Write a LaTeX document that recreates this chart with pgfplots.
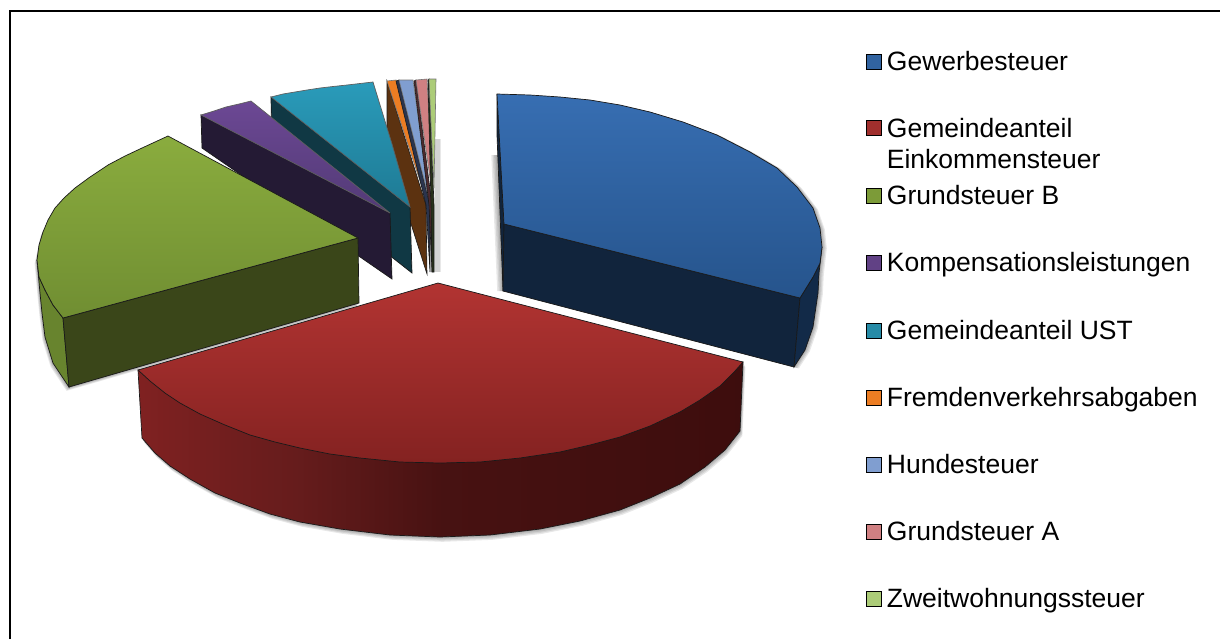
\documentclass[border=0pt]{standalone}
\usepackage{fontspec}
\setmainfont{Liberation Sans}
\usepackage{pgfplots}
\usepackage{pgfplotstable}
\pgfplotsset{compat=1.18}

% top faces: vertical gradient
\definecolor{blueA}{RGB}{55,110,178}\definecolor{blueB}{RGB}{38,84,140}
\definecolor{redA}{RGB}{178,52,50}\definecolor{redB}{RGB}{132,34,33}
\definecolor{greenA}{RGB}{138,172,62}\definecolor{greenB}{RGB}{112,142,50}
\definecolor{purpA}{RGB}{108,72,148}\definecolor{purpB}{RGB}{82,58,118}
\definecolor{tealA}{RGB}{42,155,186}\definecolor{tealB}{RGB}{30,122,148}
% walls
\definecolor{blueW}{RGB}{17,36,60}\definecolor{blueO}{RGB}{18,42,72}
\definecolor{greenW}{RGB}{58,70,25}\definecolor{greenO}{RGB}{104,132,46}
\definecolor{purpW}{RGB}{36,26,52}\definecolor{tealW}{RGB}{16,56,68}
\definecolor{brownW}{RGB}{92,50,16}\definecolor{edge}{RGB}{25,25,25}
\definecolor{orangeK}{RGB}{236,125,35}\definecolor{hundK}{RGB}{128,158,208}
\definecolor{pinkK}{RGB}{208,128,130}\definecolor{limeK}{RGB}{172,204,120}
\pgfdeclarehorizontalshading{redwall}{100bp}{
  rgb(0bp)=(0.50,0.13,0.13); rgb(25bp)=(0.50,0.13,0.13);
  rgb(38bp)=(0.40,0.11,0.11);
  rgb(50bp)=(0.28,0.07,0.07);
  rgb(75bp)=(0.24,0.05,0.05); rgb(100bp)=(0.24,0.05,0.05)}

% outer outlines, in pixels of the picture
\pgfplotstableread{
x y
138 370
142 438
155 453
170 466
190 479
215 493
240 503
270 514
300 522
340 529
390 535
440 537
490 535
540 529
580 521
620 510
650 498
680 484
705 467
725 450
740 431
743 362
438 283
}\redoutline
\pgfplotstableread{
x y
497 94
497 135
503 291
794 367
805 350
813 327
818 293
819 273
822 247
820 228
813 208
797 187
777 168
750 152
717 135
683 122
650 112
620 105
590 100
560 97
530 95
}\blueoutline
\pgfplotstableread{
x y
168 136
142 148
108 165
75 188
55 208
43 232
37 260
40 293
42 313
45 337
53 363
69 387
359 303
358 238
}\greenoutline

\begin{document}
\begin{tikzpicture}
\begin{axis}[
  scale only axis, width=610pt, height=319.5pt,
  xmin=0, xmax=1220, ymin=0, ymax=639, y dir=reverse,
  hide axis, clip=true,
]
% page and frame
\addplot[draw=none, fill=white] coordinates {(0,0)(1220,0)(1220,639)(0,639)} -- cycle;
\addplot[black, line width=1.2pt] coordinates {(10,639)(10,11)(1220,11)};

% soft shadows
\pgfplotsinvokeforeach{0.6,1.2,1.8,2.4}{
  \addplot[draw=none, fill=black, opacity=0.09, shift={(#1*0.5pt,-#1*1pt)}] table {\redoutline} -- cycle;
  \addplot[draw=none, fill=black, opacity=0.09, shift={(#1*1pt,-#1*0.3pt)}] table {\blueoutline} -- cycle;
  \addplot[draw=none, fill=black, opacity=0.09, shift={(-#1*0.5pt,-#1*0.8pt)}] table {\greenoutline} -- cycle;
  \addplot[draw=none, fill=black, opacity=0.09, shift={(-#1*1.2pt,0pt)}] coordinates {(497,155)(503,291)(510,291)(505,155)} -- cycle;
  \addplot[draw=none, fill=black, opacity=0.09, shift={(#1*1pt,0pt)}] coordinates {(433,139)(436,139)(436,272)(433,272)} -- cycle;
}

% tiny slices, back to front
\addplot[draw=edge, line width=.3pt, fill=brownW] coordinates {(387,81)(426,205)(427,274)(412,227)(387,150)} -- cycle;
\addplot[draw=edge!60, line width=.3pt, fill=orangeK] coordinates {(387,81)(396,80)(422,187)} -- cycle;
\addplot[draw=edge, line width=.3pt, fill={rgb,255:red,42;green,52;blue,78}] coordinates {(396,81)(399,80)(430,205)(430,272)(426,205)} -- cycle;
\addplot[draw=edge!60, line width=.3pt, fill=hundK] coordinates {(399,80)(413,80)(430,203)} -- cycle;
\addplot[draw=edge, line width=.3pt, fill={rgb,255:red,78;green,42;blue,46}] coordinates {(414,81)(416,80)(432,205)(432,272)(429,205)} -- cycle;
\addplot[draw=edge!60, line width=.3pt, fill=pinkK] coordinates {(416,80)(427,79)(433,199)} -- cycle;
\addplot[draw=edge, line width=.3pt, fill={rgb,255:red,40;green,50;blue,28}] coordinates {(428,80)(429,79)(434,205)(434,272)(432,272)(431,205)} -- cycle;
\addplot[draw=edge!60, line width=.3pt, fill=limeK] coordinates {(429,79)(436,79)(434,188)} -- cycle;

% teal slice
\addplot[draw=edge, line width=.35pt, fill=tealW] coordinates {(271,97)(410,207)(412,273)(272,163)} -- cycle;
\addplot[draw=edge!70, line width=.35pt, top color=tealA, bottom color=tealB] coordinates {(271,97)(283,94)(295,92)(307,90)(320,88)(333,86.5)(347,85)(360,83.5)(373,82)(392,144)(410,207)} -- cycle;

% purple slice
\addplot[draw=edge, line width=.35pt, fill=purpW] coordinates {(201,115)(390,213)(392,279)(202,148)} -- cycle;
\addplot[draw=edge!70, line width=.35pt, top color=purpA, bottom color=purpB] coordinates {(201,115)(214,111)(226,107)(239,104)(251,101)(390,213)} -- cycle;

% green slice
\addplot[draw=edge, line width=.35pt, fill=greenO] coordinates {(37,260)(40,293)(42,313)(45,337)(53,363)(69,387)(63,318)(53,305)(45,290)(39,277)} -- cycle;
\addplot[draw=edge, line width=.35pt, fill=greenW] coordinates {(63,318)(358,238)(359,303)(69,387)} -- cycle;
\addplot[draw=edge, line width=.35pt, top color=greenA, bottom color=greenB] coordinates {(168,136)(155,142)(142,148)(125,156)(108,165)(90,177)(75,188)(64,198)(55,208)(48,220)(43,232)(39,245)(37,260)(39,277)(45,290)(53,305)(63,318)(358,238)} -- cycle;

% blue slice
\addplot[draw=edge, line width=.35pt, fill=blueW] coordinates {(497,94)(504,224)(503,291)(497,135)} -- cycle;
\addplot[draw=edge, line width=.35pt, fill=blueW] coordinates {(504,224)(800,298)(794,367)(503,291)} -- cycle;
\addplot[draw=edge, line width=.35pt, fill=blueO] coordinates {(800,298)(813,277)(820,263)(822,247)(819,273)(818,293)(813,327)(805,350)(794,367)} -- cycle;
\addplot[draw=edge, line width=.35pt, top color=blueA, bottom color=blueB] coordinates {(497,94)(530,95)(560,97)(590,100)(620,105)(650,112)(683,122)(717,135)(750,152)(777,168)(797,187)(813,208)(820,228)(822,247)(820,263)(813,277)(800,298)(504,224)} -- cycle;

% red slice
\addplot[draw=edge, line width=.35pt, shading=redwall] coordinates {(138,370)(142,438)(155,453)(170,466)(190,479)(215,493)(240,503)(270,514)(300,522)(340,529)(390,535)(440,537)(490,535)(540,529)(580,521)(620,510)(650,498)(680,484)(705,467)(725,450)(740,431)(743,362)} -- cycle;
\addplot[draw=edge, line width=.35pt, top color=redA, bottom color=redB] coordinates {(438,283)(138,370)(150,381)(165,393)(180,403)(200,414)(225,425)(250,435)(275,442)(300,448)(330,454)(360,458)(400,462)(440,463)(480,462)(520,458)(560,452)(590,445)(620,437)(650,426)(680,412)(700,400)(720,386)(735,371)(743,362)} -- cycle;

% legend keys
\addplot[only marks, mark=square*, mark size=3.6pt, mark options={draw=black, line width=.6pt, fill=blueA!90!black}] coordinates {(874,62)};
\addplot[only marks, mark=square*, mark size=3.6pt, mark options={draw=black, line width=.6pt, fill=redA!90!black}] coordinates {(874,128)};
\addplot[only marks, mark=square*, mark size=3.6pt, mark options={draw=black, line width=.6pt, fill=greenA!90!black}] coordinates {(874,196)};
\addplot[only marks, mark=square*, mark size=3.6pt, mark options={draw=black, line width=.6pt, fill=purpA!90!black}] coordinates {(874,263)};
\addplot[only marks, mark=square*, mark size=3.6pt, mark options={draw=black, line width=.6pt, fill=tealA!90!black}] coordinates {(874,331)};
\addplot[only marks, mark=square*, mark size=3.6pt, mark options={draw=black, line width=.6pt, fill=orangeK}] coordinates {(874,398)};
\addplot[only marks, mark=square*, mark size=3.6pt, mark options={draw=black, line width=.6pt, fill=hundK}] coordinates {(874,465)};
\addplot[only marks, mark=square*, mark size=3.6pt, mark options={draw=black, line width=.6pt, fill=pinkK}] coordinates {(874,532)};
\addplot[only marks, mark=square*, mark size=3.6pt, mark options={draw=black, line width=.6pt, fill=limeK}] coordinates {(874,599)};

\begin{scope}[every node/.style={anchor=base west, inner sep=0pt, font=\fontsize{13.25}{15.5}\selectfont}]
\node at (axis cs:886.5,70) {Gewerbesteuer};
\node at (axis cs:886.5,137) {Gemeindeanteil};
\node at (axis cs:886.5,168) {Einkommensteuer};
\node at (axis cs:886.5,204) {Grundsteuer B};
\node at (axis cs:886.5,271) {Kompensationsleistungen};
\node at (axis cs:886.5,339) {Gemeindeanteil UST};
\node at (axis cs:886.5,406) {Fremdenverkehrsabgaben};
\node at (axis cs:886.5,473) {Hundesteuer};
\node at (axis cs:886.5,540) {Grundsteuer A};
\node at (axis cs:886.5,607) {Zweitwohnungssteuer};
\end{scope}
\end{axis}
\end{tikzpicture}
\end{document}
